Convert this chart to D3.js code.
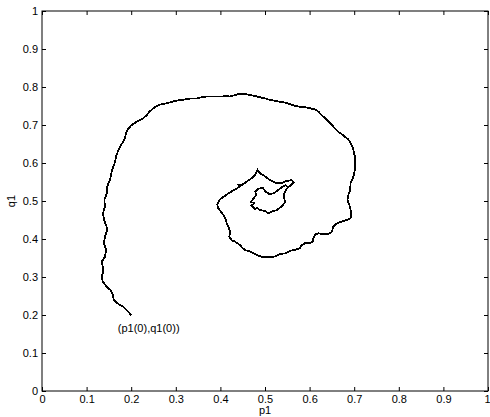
<!DOCTYPE html>
<html>
<head>
<meta charset="utf-8">
<script src="https://cdn.jsdelivr.net/npm/d3@7"></script>
<style>
  html, body { margin: 0; padding: 0; background: #fff; }
  svg { display: block; }
  text { font-family: "Liberation Sans", Arial, Helvetica, sans-serif; }
</style>
</head>
<body>
<svg id="chart" width="490" height="417"></svg>
<script>
// ---- data ----
const p1 = [
  0.200,0.182,0.171,0.161,0.159,0.153,0.144,0.136,0.134,0.137,0.136,0.134,0.141,0.144,0.139,0.141,0.145,
  0.145,0.139,0.137,0.141,0.140,0.145,0.146,0.151,0.154,0.156,0.160,0.164,0.166,0.170,0.175,0.182,0.186,
  0.188,0.194,0.201,0.209,0.216,0.227,0.235,0.241,0.250,0.257,0.268,0.280,0.291,0.302,0.313,0.324,0.336,
  0.347,0.358,0.369,0.381,0.392,0.403,0.414,
  0.422,0.433,0.444,0.455,0.466,0.478,0.489,0.500,0.511,0.522,0.534,0.545,0.556,0.567,0.579,0.590,0.601,
  0.612,0.620,0.627,0.635,0.642,0.650,0.657,0.664,0.672,0.679,0.687,0.692,0.697,0.700,0.702,0.702,0.702,
  0.700,0.697,0.692,
  0.691,0.687,0.685,0.689,0.692,0.694,0.692,0.683,0.672,0.661,0.653,0.650,0.642,0.631,0.620,0.614,0.608,
  0.608,0.601,0.590,0.582,0.579,0.567,0.556,
  0.545,0.534,0.525,0.515,0.504,0.493,0.481,0.474,0.466,0.455,0.450,0.444,0.433,0.425,0.420,0.422,0.418,
  0.414,0.413,0.407,0.401,0.395,0.393,
  0.398,0.407,0.418,0.425,0.437,0.443,0.440,0.448,0.459,0.470,0.478,
  0.483,0.489,0.496,0.504,0.511,0.519,0.526,0.537,0.549,0.560,0.564,0.556,0.549,0.543,0.543,0.545,0.537,
  0.526,0.515,0.507,0.500,0.489,0.482,0.478,0.470,0.476,0.468,0.475,0.480,0.478,0.485,0.495,0.500,0.510,
  0.519,0.526,0.534,0.540,0.546,0.551
];
const q1 = [
  0.200,0.222,0.229,0.240,0.253,0.266,0.276,0.288,0.301,0.314,0.327,0.340,0.353,0.371,0.389,0.406,0.419,
  0.432,0.450,0.468,0.485,0.503,0.520,0.538,0.551,0.564,0.577,0.590,0.603,0.617,0.630,0.643,0.656,0.665,
  0.678,0.691,0.700,0.706,0.711,0.718,0.726,0.735,0.744,0.750,0.755,0.757,0.761,0.764,0.766,0.768,0.770,
  0.770,0.773,0.775,0.775,0.775,0.775,0.776,
  0.775,0.779,0.782,0.782,0.779,0.776,0.773,0.770,0.766,0.764,0.761,0.759,0.755,0.750,0.748,0.747,0.744,
  0.741,0.735,0.726,0.718,0.709,0.700,0.691,0.682,0.676,0.669,0.662,0.652,0.639,0.626,0.612,0.599,0.586,
  0.573,0.560,0.547,
  0.529,0.516,0.503,0.490,0.476,0.463,0.455,0.450,0.446,0.441,0.432,0.419,0.413,0.413,0.415,0.413,0.402,
  0.393,0.389,0.389,0.384,0.376,0.371,0.369,
  0.362,0.361,0.355,0.352,0.353,0.353,0.358,0.362,0.367,0.371,0.376,0.384,0.393,0.397,0.406,0.419,0.432,
  0.441,0.450,0.463,0.472,0.481,0.490,
  0.503,0.511,0.520,0.525,0.533,0.538,0.543,0.542,0.551,0.560,0.568,
  0.582,0.573,0.568,0.561,0.555,0.551,0.547,0.547,0.553,0.555,0.549,0.540,0.532,0.520,0.507,0.497,0.485,
  0.476,0.472,0.468,0.474,0.476,0.482,0.478,0.488,0.494,0.498,0.507,0.516,0.525,0.532,0.535,0.526,0.518,
  0.520,0.526,0.533,0.538,0.541,0.537
];
const xTicks = [0,0.1,0.2,0.3,0.4,0.5,0.6,0.7,0.8,0.9,1];
const yTicks = [0,0.1,0.2,0.3,0.4,0.5,0.6,0.7,0.8,0.9,1];
const xLabel = "p1";
const yLabel = "q1";
const startLabel = "(p1(0),q1(0))";
const startLabelPos = [0.17, 0.155];

// ---- drawing ----
const svg = d3.select("#chart");
const x = d3.scaleLinear().domain([0, 1]).range([42, 488]);
const y = d3.scaleLinear().domain([0, 1]).range([391, 11]);
const fmt = d => String(+d.toFixed(1));

// frame
svg.append("rect")
  .attr("x", x(0)).attr("y", y(1))
  .attr("width", x(1) - x(0)).attr("height", y(0) - y(1))
  .attr("fill", "none").attr("stroke", "#000").attr("stroke-width", 1);

function styleAxis(g) {
  g.select(".domain").remove();
  g.selectAll(".tick line").attr("stroke", "#000").attr("stroke-width", 1);
  g.selectAll(".tick text").attr("fill", "#000").style("font-size", "11px");
}

const gx = svg.append("g").attr("transform", `translate(0,${y(0)})`)
  .call(d3.axisBottom(x).tickValues(xTicks).tickFormat(fmt).tickSizeInner(-4).tickSizeOuter(0).tickPadding(4))
  .call(styleAxis);
// keep the last label inside the window
gx.selectAll(".tick text").filter(d => d === 1).attr("dx", "-1");

svg.append("g").attr("transform", `translate(${x(0)},0)`)
  .call(d3.axisLeft(y).tickValues(yTicks).tickFormat(fmt).tickSizeInner(-4).tickSizeOuter(0).tickPadding(4))
  .call(styleAxis);
svg.append("g").attr("transform", `translate(0,${y(1)})`)
  .call(d3.axisTop(x).tickValues(xTicks).tickFormat("").tickSizeInner(-4).tickSizeOuter(0))
  .call(styleAxis);
svg.append("g").attr("transform", `translate(${x(1)},0)`)
  .call(d3.axisRight(y).tickValues(yTicks).tickFormat("").tickSizeInner(-4).tickSizeOuter(0))
  .call(styleAxis);

// axis labels
svg.append("text")
  .attr("x", x(0.5)).attr("y", 414)
  .attr("text-anchor", "middle").style("font-size", "11px").text(xLabel);
svg.append("text")
  .attr("transform", `translate(15,${y(0.5)}) rotate(-90)`)
  .attr("text-anchor", "middle").style("font-size", "11px").text(yLabel);

// trajectory
const pts = p1.map((p, i) => [p, q1[i]]);
const line = d3.line().x(d => x(d[0])).y(d => y(d[1]));
svg.append("path")
  .datum(pts)
  .attr("d", line)
  .attr("fill", "none")
  .attr("stroke", "#000")
  .attr("stroke-width", 1.8)
  .attr("stroke-linejoin", "miter")
  .attr("shape-rendering", "crispEdges");

// start annotation
svg.append("text")
  .attr("x", x(startLabelPos[0])).attr("y", y(startLabelPos[1]))
  .style("font-size", "11px").text(startLabel);
</script>
</body>
</html>
